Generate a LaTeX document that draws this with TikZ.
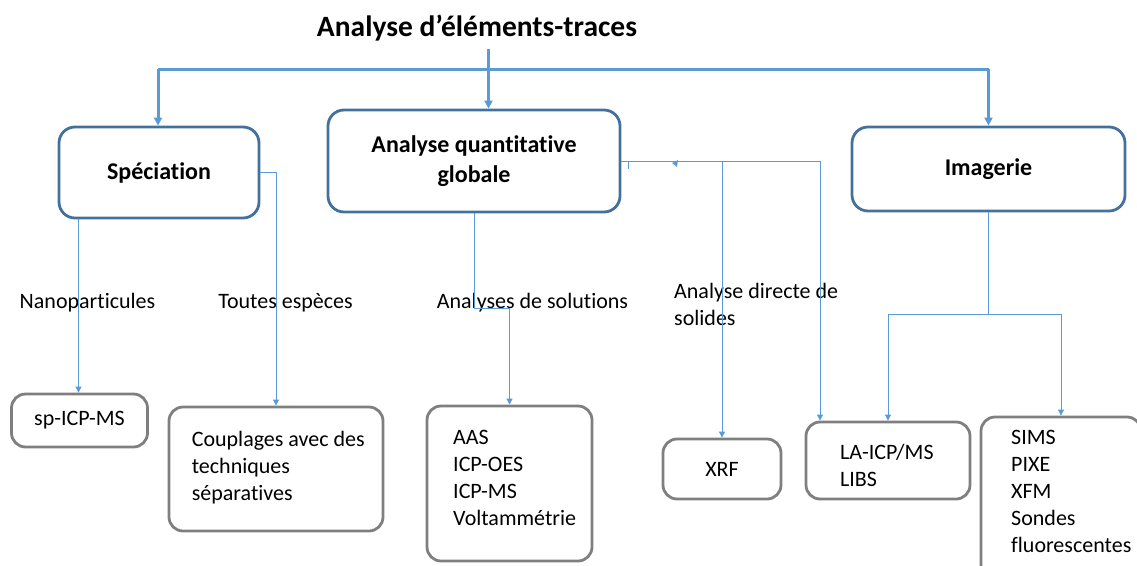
\documentclass[tikz,border=0pt]{standalone}
\usepackage{fontspec}
\setmainfont{Carlito}[Ligatures=NoCommon]
\usetikzlibrary{arrows.meta}
\definecolor{lineblue}{HTML}{5B9BD5}
\definecolor{boxblue}{HTML}{41719C}
\definecolor{boxgray}{HTML}{7F7F7F}
\begin{document}
\begin{tikzpicture}[x=1pt,y=-1pt,
  topbox/.style={draw=boxblue,line width=2.8pt,rounded corners=16pt,inner sep=0pt,
    font=\fontsize{24}{30}\selectfont\bfseries,align=center},
  lowbox/.style={draw=boxgray,line width=2.8pt,rounded corners=14pt,inner sep=0pt,
    font=\fontsize{22}{27}\selectfont,align=center},
  txt/.style={font=\fontsize{22}{27}\selectfont,align=left,inner sep=0pt},
  thicklink/.style={draw=lineblue,line width=3pt},
  thinlink/.style={draw=lineblue,line width=0.8pt},
  bigtip/.style={-{Triangle[length=8pt,width=8pt]}},
  smalltip/.style={-{Triangle[length=6pt,width=6pt]}}]
\useasboundingbox (0,0) rectangle (1137,565);

% title
\node[font=\fontsize{29.5}{34}\selectfont\bfseries,inner sep=0pt] (title) at (477,28) {Analyse d’éléments-traces};

% top level boxes
\node[topbox,minimum width=200pt,minimum height=91pt] (spec) at (159,172.5) {Spéciation};
\node[topbox,minimum width=292pt,minimum height=102pt] (quant) at (474,161) {Analyse quantitative\\globale};
\node[topbox,minimum width=273pt,minimum height=84pt] (img) at (988.5,169) {Imagerie};

% lower boxes
\node[lowbox,minimum width=136pt,minimum height=53pt] (sp) at (79.5,420.5) {sp-ICP-MS};
\node[lowbox,minimum width=214pt,minimum height=124pt] (coup) at (276,469) {};
\node[lowbox,minimum width=165pt,minimum height=155pt] (aas) at (509.5,483.5) {};
\node[lowbox,minimum width=118pt,minimum height=60pt] (xrf) at (722,469) {XRF};
\node[lowbox,minimum width=164pt,minimum height=77pt] (la) at (888,460.5) {};
\node[lowbox,minimum width=160pt,minimum height=162pt] (sims) at (1061,498) {};

% texts inside lower boxes
\node[txt,anchor=west] (coupt) at (191.6,468) {Couplages avec des\\techniques\\séparatives};
\node[txt,anchor=west] (aast) at (453,477.5) {AAS\\ICP-OES\\ICP-MS\\Voltammétrie};
\node[txt,anchor=west] (lat) at (840,465) {LA-ICP/MS\\LIBS};
\node[txt,anchor=west] (simst) at (1011,491) {SIMS\\PIXE\\XFM\\Sondes\\fluorescentes};

% branch labels
\node[txt] (lnano) at (87.5,303) {Nanoparticules};
\node[txt] (ltout) at (285.5,303) {Toutes espèces};
\node[txt] (lsol) at (532.5,303) {Analyses de solutions};
\node[txt,anchor=west] (ldir) at (674,304) {Analyse directe de\\solides};

% thick connectors
\coordinate (tstart) at (488.5,49);
\coordinate (barl) at (158,69);
\coordinate (barr) at (988.5,69);
\draw[thicklink] (barl) -- (barr);
\draw[thicklink,line width=3.6pt,bigtip] (tstart) -- (tstart |- quant.north);
\draw[thicklink,bigtip] (barl) -- (barl |- spec.north);
\draw[thicklink,bigtip] (barr) -- (img.north);

% thin connectors: Speciation
\draw[thinlink,smalltip] (spec.south -| 78.5,0) -- (sp.north -| 78.5,0);
\draw[thinlink,smalltip] (spec.east) -| (coup.north);

% thin connectors: quantitative
\coordinate (qa) at (474,308);
\draw[thinlink,smalltip] (quant.south) -- (qa) -| (aas.north);
\coordinate (qr) at (820,161);
\coordinate (stub) at (628,161);
\draw[thinlink,smalltip] (quant.east) -- (qr) -- (qr |- la.north);
\draw[thinlink,smalltip] (quant.east -| xrf.north) -- (xrf.north);
\draw[thinlink] (stub) -- ++(0,8);
\fill[lineblue] (672,163) -- (678,160) -- (677,167) -- cycle;

% thin connectors: imagerie
\coordinate (ib) at (988.5,314);
\draw[thinlink] (img.south) -- (ib);
\draw[thinlink,smalltip] (ib) -| (la.north);
\draw[thinlink,smalltip] (ib) -| (sims.north);
\end{tikzpicture}
\end{document}
